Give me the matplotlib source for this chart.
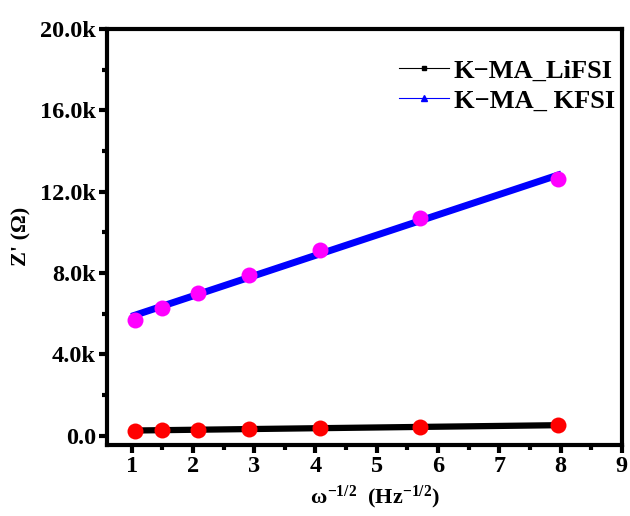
import numpy as np
import matplotlib
matplotlib.use("Agg")
import matplotlib.pyplot as plt
from matplotlib.lines import Line2D
from matplotlib.ticker import MultipleLocator, FuncFormatter

plt.rcParams['font.family'] = ['Liberation Serif', 'DejaVu Serif']
plt.rcParams['font.weight'] = 'bold'
plt.rcParams['mathtext.fontset'] = 'custom'
plt.rcParams['mathtext.rm'] = 'Liberation Serif:bold'
plt.rcParams['mathtext.it'] = 'Liberation Serif:bold'
plt.rcParams['mathtext.bf'] = 'Liberation Serif:bold'

# omega^-1/2 values and real impedance (ohm)
w_inv_sqrt = [1.05, 1.49, 2.08, 2.91, 4.08, 5.70, 7.96]
z_lifsi = [250, 265, 290, 330, 370, 430, 510]
z_kfsi = [5700, 6280, 7000, 7900, 9130, 10700, 12600]

names = ['K\u2212MA_LiFSI', 'K\u2212MA_ KFSI']

x = np.array(w_inv_sqrt)
fit_li = np.polyfit(x, z_lifsi, 1)
fit_k = np.polyfit(x, z_kfsi, 1)
xf = np.array([x[0], x[-1]])

fig = plt.figure(figsize=(6.3, 5.16), dpi=100)
ax = fig.add_axes([0.170, 0.138, 0.817, 0.806])

ax.plot(xf, np.polyval(fit_li, xf), color='black', lw=4.5, zorder=2)
ax.plot(xf, np.polyval(fit_k, xf), color='#0000ff', lw=5, zorder=2)
ax.plot(x, z_lifsi, 'o', color='#ff0000', ms=11.5, mec='none', zorder=3)
ax.plot(x, z_kfsi, 'o', color='#ff00ff', ms=11.5, mec='none', zorder=3)

ax.set_xlim(0.6, 9)
ax.set_ylim(-450, 20000)
ax.xaxis.set_major_locator(MultipleLocator(1))
ax.xaxis.set_minor_locator(MultipleLocator(0.5))
ax.yaxis.set_major_locator(MultipleLocator(4000))
ax.yaxis.set_minor_locator(MultipleLocator(2000))
ax.yaxis.set_major_formatter(FuncFormatter(
    lambda v, p: '0.0' if abs(v) < 1 else '%.1fk' % (v / 1000)))

for s in ax.spines.values():
    s.set_linewidth(3)
ax.tick_params(which='major', direction='out', length=6, width=3,
               labelsize=17.5, pad=2)
ax.tick_params(which='minor', direction='out', length=3.5, width=3)
for lab in ax.get_xticklabels() + ax.get_yticklabels():
    lab.set_fontweight('bold')

ax.set_xlabel(r'$\omega^{-1/2}$  (Hz$^{-1/2}$)', fontsize=16,
              fontweight='bold')
ax.xaxis.set_label_coords(0.52, -0.093)
ax.set_ylabel("Z' (\u03a9)", fontsize=16, fontweight='bold')
ax.yaxis.set_label_coords(-0.147, 0.5)

handles = [
    Line2D([], [], color='black', lw=0.8, marker='s', ms=3.5),
    Line2D([], [], color='#0000ff', lw=0.8, marker='^', ms=4),
]
ax.legend(handles, names, loc='upper right', frameon=False,
          prop={'size': 19, 'weight': 'bold'}, handlelength=1.9,
          handletextpad=0.2, labelspacing=0.25,
          bbox_to_anchor=(1.033, 0.985))

fig.savefig('out.png', dpi=100)
